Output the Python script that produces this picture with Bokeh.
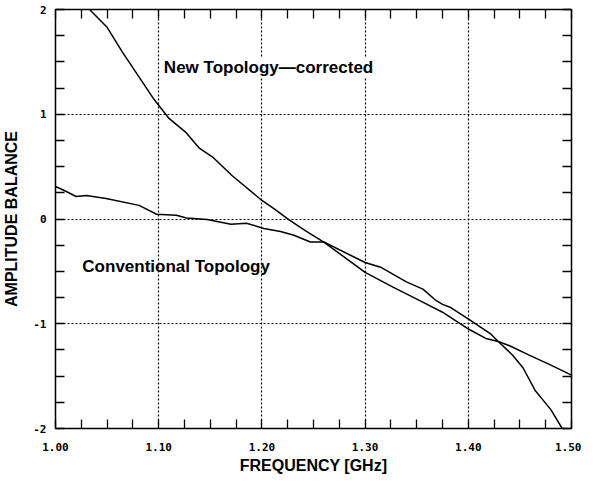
from bokeh.plotting import figure
from bokeh.models import LinearAxis, FixedTicker, Range1d, Label, Grid, CustomJSTickFormatter
from bokeh.embed import file_html
from bokeh.resources import INLINE

# ---- data ----
new_freq = [1.033, 1.050, 1.065, 1.0956, 1.110, 1.126, 1.139, 1.153, 1.171, 1.200,
            1.213, 1.226, 1.242, 1.260, 1.300, 1.327, 1.353, 1.375, 1.401, 1.417,
            1.429, 1.443, 1.453, 1.465, 1.480, 1.491]
new_amp = [2.00, 1.83, 1.59, 1.14, 0.96, 0.83, 0.68, 0.585, 0.415, 0.177,
           0.09, -0.005, -0.11, -0.22, -0.51, -0.65, -0.78, -0.89, -1.055, -1.14,
           -1.17, -1.30, -1.42, -1.64, -1.82, -2.00]

conv_freq = [1.000, 1.009, 1.020, 1.030, 1.049, 1.081, 1.098, 1.117, 1.127, 1.147,
             1.170, 1.185, 1.202, 1.218, 1.231, 1.247, 1.260, 1.300, 1.315, 1.340,
             1.356, 1.369, 1.375, 1.383, 1.401, 1.422, 1.429, 1.440, 1.459, 1.479, 1.500]
conv_amp = [0.31, 0.27, 0.215, 0.225, 0.195, 0.13, 0.045, 0.035, 0.01, -0.005,
            -0.05, -0.04, -0.09, -0.12, -0.155, -0.22, -0.22, -0.415, -0.46, -0.60,
            -0.67, -0.78, -0.815, -0.845, -0.96, -1.10, -1.17, -1.21, -1.30, -1.39, -1.49]

x_ticks = [1.00, 1.10, 1.20, 1.30, 1.40, 1.50]
x_tick_labels = ["1.00", "1.10", "1.20", "1.30", "1.40", "1.50"]
y_ticks = [-2, -1, 0, 1, 2]
y_tick_labels = ["-2", "-1", "0", "1", "2"]

x_label = "FREQUENCY [GHz]"
y_label = "AMPLITUDE BALANCE"
new_text = "New Topology\u2014corrected"
conv_text = "Conventional Topology"

# ---- figure ----
p = figure(width=581, height=477, output_backend="svg", toolbar_location=None,
           x_range=Range1d(1.0, 1.5), y_range=Range1d(-2, 2),
           x_axis_location=None, y_axis_location=None,
           min_border_left=53, min_border_right=10, min_border_top=9, min_border_bottom=49)
p.background_fill_color = "white"
p.border_fill_color = "white"
p.outline_line_color = "black"
p.outline_line_width = 1.5

x_minor = [round(1.0 + 0.025 * i, 3) for i in range(21)]
y_minor = [-2 + 0.25 * i for i in range(17)]
xt = FixedTicker(ticks=x_ticks, minor_ticks=x_minor)
yt = FixedTicker(ticks=y_ticks, minor_ticks=y_minor)

tick_font = "DejaVu Sans Mono"
label_font = "Liberation Sans"

def style_axis(ax):
    ax.axis_line_color = None
    ax.major_tick_in = 0
    ax.major_tick_out = 0
    ax.minor_tick_in = 9
    ax.minor_tick_out = 0
    ax.minor_tick_line_color = "black"
    ax.minor_tick_line_width = 1.3
    ax.major_label_text_font = tick_font
    ax.major_label_text_font_style = "bold"
    ax.major_label_text_color = "black"
    ax.major_label_text_font_size = "11px"
    ax.axis_label_text_font = label_font
    ax.axis_label_text_font_style = "bold"
    ax.axis_label_text_font_size = "16px"
    ax.axis_label_text_color = "black"

xb = LinearAxis(ticker=xt, axis_label=x_label,
                major_label_overrides={t: s for t, s in zip(x_ticks, x_tick_labels)})
style_axis(xb)
xb.major_label_standoff = 14
xb.axis_label_standoff = 3
p.add_layout(xb, "below")

yl = LinearAxis(ticker=yt, axis_label=y_label,
                major_label_overrides={t: s for t, s in zip(y_ticks, y_tick_labels)})
style_axis(yl)
yl.major_label_standoff = 9
yl.axis_label_standoff = 10
p.add_layout(yl, "left")

blank = CustomJSTickFormatter(code="return '';")
xa = LinearAxis(ticker=xt, formatter=blank)
style_axis(xa)
xa.major_label_standoff = 0
xa.major_label_text_font_size = "2px"
p.add_layout(xa, "above")

yr = LinearAxis(ticker=yt, formatter=blank)
style_axis(yr)
yr.major_label_standoff = 0
yr.major_label_text_font_size = "2px"
p.add_layout(yr, "right")

p.xgrid.visible = False
p.ygrid.visible = False
gx = Grid(dimension=0, ticker=xt, grid_line_color="black", grid_line_dash="2 2", grid_line_width=1.2)
gy = Grid(dimension=1, ticker=yt, grid_line_color="black", grid_line_dash="2 2", grid_line_width=1.2)
p.add_layout(gx)
p.add_layout(gy)

p.line(new_freq, new_amp, line_color="black", line_width=1.5)
p.line(conv_freq, conv_amp, line_color="black", line_width=1.5)

p.add_layout(Label(x=1.105, y=1.446, text=new_text, text_font=label_font,
                   text_font_style="bold", text_font_size="17px", text_color="black",
                   text_baseline="alphabetic", background_fill_color="white"))
p.add_layout(Label(x=1.026, y=-0.453, text=conv_text, text_font=label_font,
                   text_font_style="bold", text_font_size="17px", text_color="black",
                   text_baseline="alphabetic"))

open("out.html", "w").write(file_html(p, INLINE))
